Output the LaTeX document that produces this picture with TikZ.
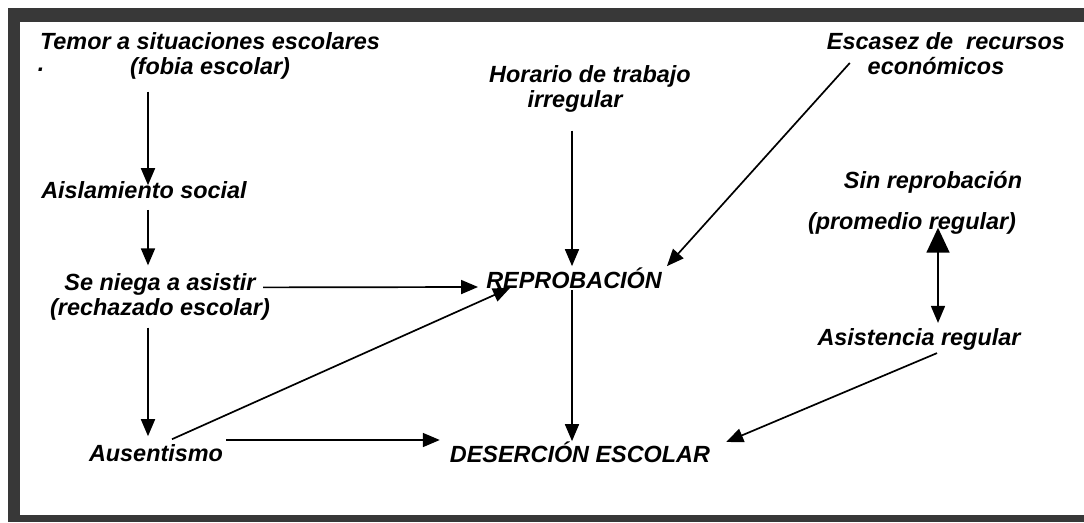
\documentclass[tikz,border=0pt]{standalone}
\usepackage{fontspec}
\setmainfont{Liberation Sans}
\usetikzlibrary{arrows.meta}

\tikzset{
  lbl/.style={inner sep=0pt, align=center, font=\fontsize{23.4}{25}\selectfont\bfseries\itshape},
  arr/.style={line width=1.7pt, -{Triangle[length=17pt,width=14pt]}},
  framefill/.style={fill=black!78}
}

\begin{document}
\begin{tikzpicture}[x=1pt,y=-1pt]
\useasboundingbox (0,0) rectangle (1084,522);
\fill[framefill] (8,8) rectangle (1084,22);
\fill[framefill] (8,8) rectangle (20,522);
\fill[framefill] (8,515) rectangle (1084,522);

\coordinate (colA) at (148,0);
\coordinate (colB) at (572,0);
\coordinate (colC) at (938,0);

\node[lbl] (temor) at (210,56) {Temor a situaciones escolares\\(fobia escolar)};
\node[lbl, anchor=base] (dot) at (41,71) {.};
\node[lbl] (aisl) at (144,190) {Aislamiento social};
\node[lbl] (seniega) at (160,297) {Se niega a asistir\\(rechazado escolar)};
\node[lbl] (ausent) at (156,453) {Ausentismo};
\node[lbl] (horario) at (590,89) {Horario de trabajo\\irregular\hspace*{30pt}};
\node[lbl, anchor=base] (reprob) at (574,288) {REPROBACIÓN};
\node[lbl, anchor=base] (desercion) at (580,462) {DESERCIÓN ESCOLAR};
\node[lbl] (escasez) at (946,54) {Escasez de\ \ recursos\\económicos\hspace*{20pt}};
\node[lbl] (sinrep) at (912,203) {\hspace*{42pt}Sin reprobación\\[16pt](promedio regular)};
\node[lbl] (asist) at (919,339) {Asistencia regular};

\draw[arr, shorten <=12pt, shorten >=-4pt] (temor.south -| colA) -- (aisl.north -| colA);
\draw[arr, shorten <=11pt, shorten >=8pt] (aisl.south -| colA) -- (seniega.north -| colA);
\draw[arr, shorten <=7pt, shorten >=8pt] (seniega.south -| colA) -- (ausent.north -| colA);
\draw[arr] ([xshift=-7pt,yshift=-14pt]seniega.north east) -- ([xshift=-8pt,yshift=1pt]reprob.base west);
\draw[arr] ([xshift=16pt,yshift=5pt]ausent.north) -- ([xshift=-64pt]reprob.base);
\draw[arr] ([xshift=3pt,yshift=13pt]ausent.east) -- ([xshift=-10pt,yshift=22pt]desercion.base west);
\draw[arr, shorten <=18pt, shorten >=1pt] (horario.south -| colB) -- (reprob.north -| colB);
\draw[arr] ([xshift=23pt,yshift=-9pt]escasez.west) -- ([xshift=5pt,yshift=1pt]reprob.north east);
\draw[arr, shorten <=2pt] (reprob.base -| colB) -- (desercion.north -| colB);
\draw[line width=1.7pt, {Triangle[length=25pt,width=23pt]}-{Triangle[length=17pt,width=14pt]}, shorten <=-7pt, shorten >=5pt] (sinrep.south -| colC) -- (asist.north -| colC);
\draw[arr] ([xshift=18pt,yshift=-3pt]asist.south) -- ([xshift=16pt,yshift=20pt]desercion.base east);
\end{tikzpicture}
\end{document}
